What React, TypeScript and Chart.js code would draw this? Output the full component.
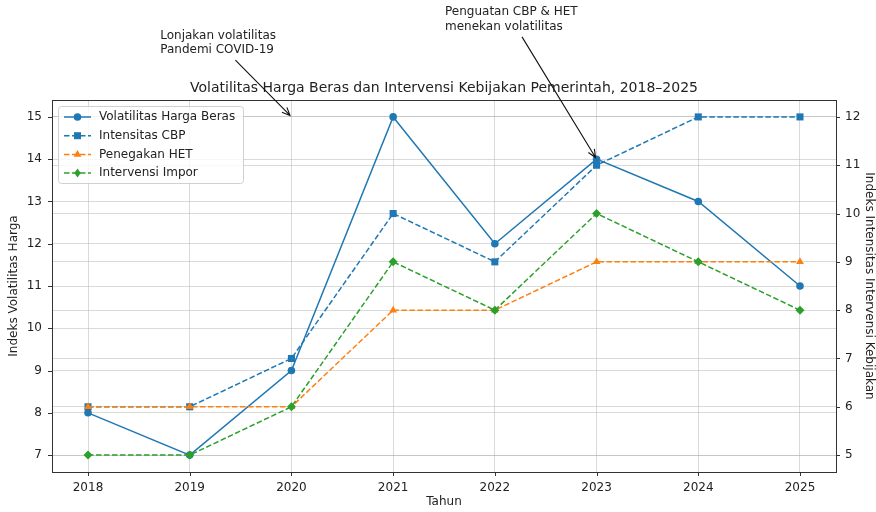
import React, { useEffect, useRef } from "react";
import { Chart, registerables } from "chart.js";

Chart.register(...registerables);

const years = [2018, 2019, 2020, 2021, 2022, 2023, 2024, 2025];
const volatilitas = [8, 7, 9, 15, 12, 14, 13, 11];
const intensitasCBP = [6, 6, 7, 10, 9, 11, 12, 12];
const penegakanHET = [6, 6, 6, 8, 8, 9, 9, 9];
const intervensiImpor = [5, 5, 6, 9, 8, 10, 9, 8];
const leftTicks = [7, 8, 9, 10, 11, 12, 13, 14, 15];
const rightTicks = [5, 6, 7, 8, 9, 10, 11, 12];

const chartTitle = "Volatilitas Harga Beras dan Intervensi Kebijakan Pemerintah, 2018–2025";
const xTitle = "Tahun";
const leftTitle = "Indeks Volatilitas Harga";
const rightTitle = "Indeks Intensitas Intervensi Kebijakan";

const annotations = [
  { lines: ["Lonjakan volatilitas", "Pandemi COVID-19"], textX: 2018.71, textY: 17.1, targetX: 2020, targetY: 15 },
  { lines: ["Penguatan CBP & HET", "menekan volatilitas"], textX: 2021.51, textY: 17.65, targetX: 2023, targetY: 14 },
];

const C_BLUE = "#1f77b4";
const C_ORANGE = "#ff7f0e";
const C_GREEN = "#2ca02c";
const TEXT = "#222222";
const GRID = "rgba(176,176,176,0.6)";
const FONT = '"DejaVu Sans", sans-serif';

const toXY = (vals: number[]) => years.map((yr, i) => ({ x: yr, y: vals[i] }));

function drawMarker(ctx: CanvasRenderingContext2D, style: string, x: number, y: number, color: string) {
  ctx.save();
  ctx.fillStyle = color;
  ctx.beginPath();
  if (style === "circle") {
    ctx.arc(x, y, 3.8, 0, Math.PI * 2);
  } else if (style === "rect") {
    ctx.rect(x - 3.5, y - 3.5, 7, 7);
  } else if (style === "triangle") {
    ctx.moveTo(x, y - 4.5);
    ctx.lineTo(x + 3.9, y + 2.25);
    ctx.lineTo(x - 3.9, y + 2.25);
    ctx.closePath();
  } else {
    ctx.moveTo(x, y - 4.5);
    ctx.lineTo(x + 3.2, y);
    ctx.lineTo(x, y + 4.5);
    ctx.lineTo(x - 3.2, y);
    ctx.closePath();
  }
  ctx.fill();
  ctx.restore();
}

const overlay = {
  id: "overlay",
  afterDraw(chart: any) {
    const { ctx, chartArea: ca, scales } = chart;
    const xs = scales.x, ys = scales.y, ys1 = scales.y1;
    ctx.save();

    // frame
    ctx.strokeStyle = "#333";
    ctx.lineWidth = 1;
    ctx.strokeRect(Math.round(ca.left) + 0.5, Math.round(ca.top) + 0.5, Math.round(ca.right - ca.left), Math.round(ca.bottom - ca.top));

    // tick marks
    ctx.beginPath();
    years.forEach((v) => {
      const px = Math.round(xs.getPixelForValue(v)) + 0.5;
      ctx.moveTo(px, ca.bottom);
      ctx.lineTo(px, ca.bottom + 4);
    });
    leftTicks.forEach((v) => {
      const py = Math.round(ys.getPixelForValue(v)) + 0.5;
      ctx.moveTo(ca.left - 4, py);
      ctx.lineTo(ca.left, py);
    });
    rightTicks.forEach((v) => {
      const py = Math.round(ys1.getPixelForValue(v)) + 0.5;
      ctx.moveTo(ca.right, py);
      ctx.lineTo(ca.right + 4, py);
    });
    ctx.stroke();

    // titles
    ctx.fillStyle = TEXT;
    ctx.textAlign = "center";
    ctx.textBaseline = "middle";
    ctx.font = `14px ${FONT}`;
    ctx.fillText(chartTitle, (ca.left + ca.right) / 2, ca.top - 12);
    ctx.font = `12px ${FONT}`;
    ctx.fillText(xTitle, (ca.left + ca.right) / 2, ca.bottom + 30);
    ctx.save();
    ctx.translate(ca.left - 38, (ca.top + ca.bottom) / 2);
    ctx.rotate(-Math.PI / 2);
    ctx.fillText(leftTitle, 0, 0);
    ctx.restore();
    ctx.save();
    ctx.translate(ca.right + 33, (ca.top + ca.bottom) / 2);
    ctx.rotate(Math.PI / 2);
    ctx.fillText(rightTitle, 0, 0);
    ctx.restore();

    // legend
    const lx = ca.left + 6, ly = ca.top + 6, lw = 185, lh = 77;
    ctx.save();
    ctx.fillStyle = "rgba(255,255,255,0.8)";
    ctx.strokeStyle = "#d0d0d0";
    ctx.lineWidth = 1;
    ctx.beginPath();
    (ctx as any).roundRect(lx + 0.5, ly + 0.5, lw, lh, 3);
    ctx.fill();
    ctx.stroke();
    ctx.restore();
    chart.data.datasets.forEach((ds: any, i: number) => {
      const ry = ly + 11 + i * 18.7;
      ctx.save();
      ctx.strokeStyle = ds.borderColor;
      ctx.lineWidth = 1.5;
      ctx.setLineDash(ds.borderDash || []);
      ctx.beginPath();
      ctx.moveTo(lx + 6, ry);
      ctx.lineTo(lx + 33, ry);
      ctx.stroke();
      ctx.restore();
      drawMarker(ctx, ds.pointStyle, lx + 19.5, ry, ds.borderColor);
      ctx.fillStyle = TEXT;
      ctx.textAlign = "left";
      ctx.textBaseline = "middle";
      ctx.font = `12px ${FONT}`;
      ctx.fillText(ds.label, lx + 41, ry);
    });

    // annotations
    annotations.forEach((a) => {
      ctx.font = `12px ${FONT}`;
      const left = xs.getPixelForValue(a.textX);
      const top = ys.getPixelForValue(a.textY);
      const lineH = 14.5;
      const w = Math.max(...a.lines.map((l) => ctx.measureText(l).width));
      const h = a.lines.length * lineH;
      ctx.fillStyle = TEXT;
      ctx.textAlign = "left";
      ctx.textBaseline = "middle";
      a.lines.forEach((l, k) => ctx.fillText(l, left, top + lineH / 2 + k * lineH));
      const cx = left + w / 2, cy = top + h / 2;
      const tx = xs.getPixelForValue(a.targetX), ty = ys.getPixelForValue(a.targetY);
      const dx = tx - cx, dy = ty - cy;
      const t0 = (h / 2 + 3) / dy;
      const sx = cx + dx * t0, sy = cy + dy * t0;
      const len = Math.hypot(tx - sx, ty - sy);
      const ux = (tx - sx) / len, uy = (ty - sy) / len;
      const ex = tx - ux * 2, ey = ty - uy * 2;
      ctx.strokeStyle = "#111";
      ctx.lineWidth = 1.1;
      ctx.beginPath();
      ctx.moveTo(sx, sy);
      ctx.lineTo(ex, ey);
      const hl = 8, hw = 3.5;
      ctx.moveTo(ex - ux * hl - uy * hw, ey - uy * hl + ux * hw);
      ctx.lineTo(ex, ey);
      ctx.lineTo(ex - ux * hl + uy * hw, ey - uy * hl - ux * hw);
      ctx.stroke();
    });

    ctx.restore();
  },
};

export default function App() {
  const canvasRef = useRef<HTMLCanvasElement | null>(null);

  useEffect(() => {
    if (!canvasRef.current) return;
    Chart.defaults.font.family = FONT;
    const chart = new Chart(canvasRef.current, {
      type: "line",
      data: {
        datasets: [
          {
            label: "Volatilitas Harga Beras",
            data: toXY(volatilitas),
            yAxisID: "y",
            borderColor: C_BLUE,
            backgroundColor: C_BLUE,
            borderWidth: 1.5,
            pointStyle: "circle",
            pointRadius: 3.8,
            pointBorderWidth: 0,
            pointBackgroundColor: C_BLUE,
            order: 4,
          },
          {
            label: "Intensitas CBP",
            data: toXY(intensitasCBP),
            yAxisID: "y1",
            borderColor: C_BLUE,
            backgroundColor: C_BLUE,
            borderWidth: 1.5,
            borderDash: [5.5, 2.5],
            pointStyle: "rect",
            pointRadius: 5,
            pointBorderWidth: 0,
            pointBackgroundColor: C_BLUE,
            order: 3,
          },
          {
            label: "Penegakan HET",
            data: toXY(penegakanHET),
            yAxisID: "y1",
            borderColor: C_ORANGE,
            backgroundColor: C_ORANGE,
            borderWidth: 1.5,
            borderDash: [5.5, 2.5],
            pointStyle: "triangle",
            pointRadius: 4.5,
            pointBorderWidth: 0,
            pointBackgroundColor: C_ORANGE,
            order: 2,
          },
          {
            label: "Intervensi Impor",
            data: toXY(intervensiImpor),
            yAxisID: "y1",
            borderColor: C_GREEN,
            backgroundColor: C_GREEN,
            borderWidth: 1.5,
            borderDash: [5.5, 2.5],
            pointStyle: "rectRot",
            pointRadius: 4.5,
            pointBorderWidth: 0,
            pointBackgroundColor: C_GREEN,
            order: 1,
          },
        ] as any,
      },
      options: {
        animation: false,
        responsive: false,
        layout: { padding: { top: 100, left: 0, right: 0, bottom: 0 } },
        plugins: { legend: { display: false }, title: { display: false }, tooltip: { enabled: false } },
        elements: { line: { tension: 0 } },
        scales: {
          x: {
            type: "linear",
            min: 2017.646,
            max: 2025.354,
            afterBuildTicks: (s: any) => { s.ticks = years.map((v) => ({ value: v })); },
            afterFit: (s: any) => { s.height = 40; },
            grid: { color: GRID, lineWidth: 0.8, drawTicks: false },
            border: { display: false },
            ticks: { color: TEXT, font: { size: 12 }, padding: 9, maxRotation: 0, callback: (v: any) => String(v) },
          },
          y: {
            type: "linear",
            position: "left",
            min: 6.6,
            max: 15.4,
            afterBuildTicks: (s: any) => { s.ticks = leftTicks.map((v) => ({ value: v })); },
            afterFit: (s: any) => { s.width = 52; },
            grid: { color: GRID, lineWidth: 0.8, drawTicks: false },
            border: { display: false },
            ticks: { color: TEXT, font: { size: 12 }, padding: 10, callback: (v: any) => String(v) },
          },
          y1: {
            type: "linear",
            position: "right",
            min: 4.65,
            max: 12.35,
            afterBuildTicks: (s: any) => { s.ticks = rightTicks.map((v) => ({ value: v })); },
            afterFit: (s: any) => { s.width = 40; },
            grid: { color: GRID, lineWidth: 0.8, drawTicks: false },
            border: { display: false },
            ticks: { color: TEXT, font: { size: 12 }, padding: 9, callback: (v: any) => String(v) },
          },
        },
      } as any,
      plugins: [overlay],
    });
    return () => chart.destroy();
  }, []);

  return (
    <div style={{ position: "fixed", left: 0, top: 0, width: 876, height: 512, background: "#fff" }}>
      <canvas ref={canvasRef} width={876} height={512} style={{ display: "block" }} />
    </div>
  );
}
